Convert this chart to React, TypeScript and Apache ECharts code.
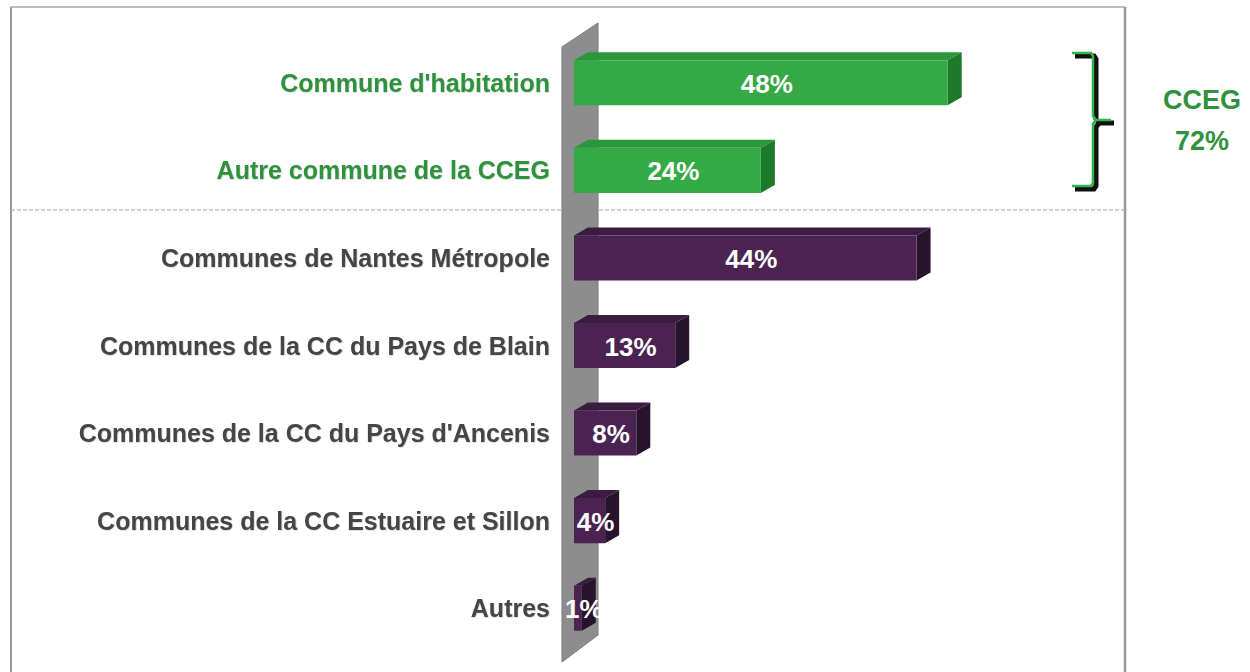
import React, { useEffect, useRef } from "react";
import * as echarts from "echarts";

const categories = [
  "Commune d'habitation",
  "Autre commune de la CCEG",
  "Communes de Nantes Métropole",
  "Communes de la CC du Pays de Blain",
  "Communes de la CC du Pays d'Ancenis",
  "Communes de la CC Estuaire et Sillon",
  "Autres",
];
const values = [48, 24, 44, 13, 8, 4, 1];
const isCCEG = [true, true, false, false, false, false, false];
const groupLabel = ["CCEG", "72%"];

const FONT = "'Liberation Sans', Arial, sans-serif";
const GREEN_TEXT = "#2f923d";
const GRAY_TEXT = "#454545";

const GREEN = { front: "#35a945", top: "#2b973a", side: "#1c7a2a" };
const PURPLE = { front: "#4a2351", top: "#3a1c40", side: "#28132d" };

export default function App() {
  const ref = useRef<HTMLDivElement>(null);
  useEffect(() => {
    if (!ref.current) return;
    const chart = echarts.init(ref.current, null, { renderer: "svg" });
    const option: any = {
      animation: false,
      backgroundColor: "#ffffff",
      grid: { left: 574, top: 39, width: 545, height: 613, containLabel: false },
      xAxis: { type: "value", min: 0, max: 70, show: false },
      yAxis: {
        type: "category",
        data: categories,
        inverse: true,
        axisLine: { show: false },
        axisTick: { show: false },
        splitLine: { show: false },
        axisLabel: {
          margin: 24,
          fontFamily: FONT,
          fontWeight: "bold",
          fontSize: 25,
          color: (_v: string, i: number) => (isCCEG[i] ? GREEN_TEXT : GRAY_TEXT),
          textShadowColor: "rgba(0,0,0,0.25)",
          textShadowBlur: 1,
          textShadowOffsetX: 0.5,
          textShadowOffsetY: 0.5,
        },
      },
      graphic: [
        // frame
        { type: "line", z: 0, shape: { x1: 11, y1: 7, x2: 1125, y2: 7 }, style: { stroke: "#a8a8a8", lineWidth: 1.5 } },
        { type: "line", z: 0, shape: { x1: 11, y1: 7, x2: 11, y2: 672 }, style: { stroke: "#999999", lineWidth: 2 } },
        { type: "line", z: 0, shape: { x1: 1125, y1: 7, x2: 1125, y2: 672 }, style: { stroke: "#999999", lineWidth: 2.5 } },
        // separator
        { type: "line", z: 0, shape: { x1: 11, y1: 210, x2: 1125, y2: 210 }, style: { stroke: "#a0a0a0", lineWidth: 1.2, lineDash: [4, 2] } },
        // wall
        {
          type: "polygon",
          z: 1,
          shape: { points: [[562, 47], [598, 23], [598, 635], [562, 662]] },
          style: { fill: "#8d8d8d", stroke: "#7a7a7a", lineWidth: 1 },
        },
        // bracket shadow
        {
          type: "polyline",
          z: 10,
          shape: { points: [[1075, 56], [1094, 56], [1096, 59], [1096, 119], [1099, 123], [1114, 123]] },
          style: { stroke: "#111111", lineWidth: 5, fill: null },
        },
        {
          type: "polyline",
          z: 10,
          shape: { points: [[1099, 123], [1096, 127], [1096, 186], [1094, 189], [1075, 189]] },
          style: { stroke: "#111111", lineWidth: 5, fill: null },
        },
        // bracket
        {
          type: "polyline",
          z: 11,
          shape: { points: [[1072, 53], [1091, 53], [1093, 56], [1093, 116], [1096, 120], [1111, 120]] },
          style: { stroke: "#2fb54b", lineWidth: 2.5, fill: null },
        },
        {
          type: "polyline",
          z: 11,
          shape: { points: [[1096, 120], [1093, 124], [1093, 183], [1091, 186], [1072, 186]] },
          style: { stroke: "#2fb54b", lineWidth: 2.5, fill: null },
        },
        {
          type: "text",
          z: 11,
          x: 1202,
          y: 100,
          style: {
            text: groupLabel[0],
            fill: GREEN_TEXT,
            font: `bold 27px ${FONT}`,
            align: "center",
            verticalAlign: "middle",
          },
        },
        {
          type: "text",
          z: 11,
          x: 1202,
          y: 141,
          style: {
            text: groupLabel[1],
            fill: GREEN_TEXT,
            font: `bold 27px ${FONT}`,
            align: "center",
            verticalAlign: "middle",
          },
        },
      ],
      series: [
        {
          type: "custom",
          z: 5,
          data: values.map((v, i) => [v, i]),
          encode: { x: 0, y: 1 },
          renderItem: (params: any, api: any) => {
            const v = api.value(0);
            const i = api.value(1);
            const end = api.coord([v, i]);
            const start = api.coord([0, i]);
            const band = api.size([0, 1])[1];
            const h = band * 0.515;
            const x0 = start[0];
            const x1 = end[0];
            const yc = end[1];
            const top = yc - h / 2;
            const bot = yc + h / 2;
            const dx = 14;
            const dy = 8;
            const c = isCCEG[i] ? GREEN : PURPLE;
            const labelX = (x0 + x1) / 2 + 6;
            return {
              type: "group",
              children: [
                {
                  type: "polygon",
                  shape: { points: [[x0, top], [x0 + dx, top - dy], [x1 + dx, top - dy], [x1, top]] },
                  style: { fill: c.top },
                },
                {
                  type: "polygon",
                  shape: { points: [[x1, top], [x1 + dx, top - dy], [x1 + dx, bot - dy], [x1, bot]] },
                  style: { fill: c.side },
                },
                {
                  type: "rect",
                  shape: { x: x0, y: top, width: x1 - x0, height: h },
                  style: { fill: c.front },
                },
                {
                  type: "text",
                  x: labelX,
                  y: yc + 1,
                  style: {
                    text: `${v}%`,
                    fill: "#ffffff",
                    font: `bold 26px ${FONT}`,
                    align: "center",
                    verticalAlign: "middle",
                  },
                },
              ],
            };
          },
        },
      ],
    };
    chart.setOption(option);
    return () => chart.dispose();
  }, []);
  return (
    <div
      ref={ref}
      style={{ position: "fixed", left: 0, top: 0, width: 1250, height: 672, background: "#fff" }}
    />
  );
}
